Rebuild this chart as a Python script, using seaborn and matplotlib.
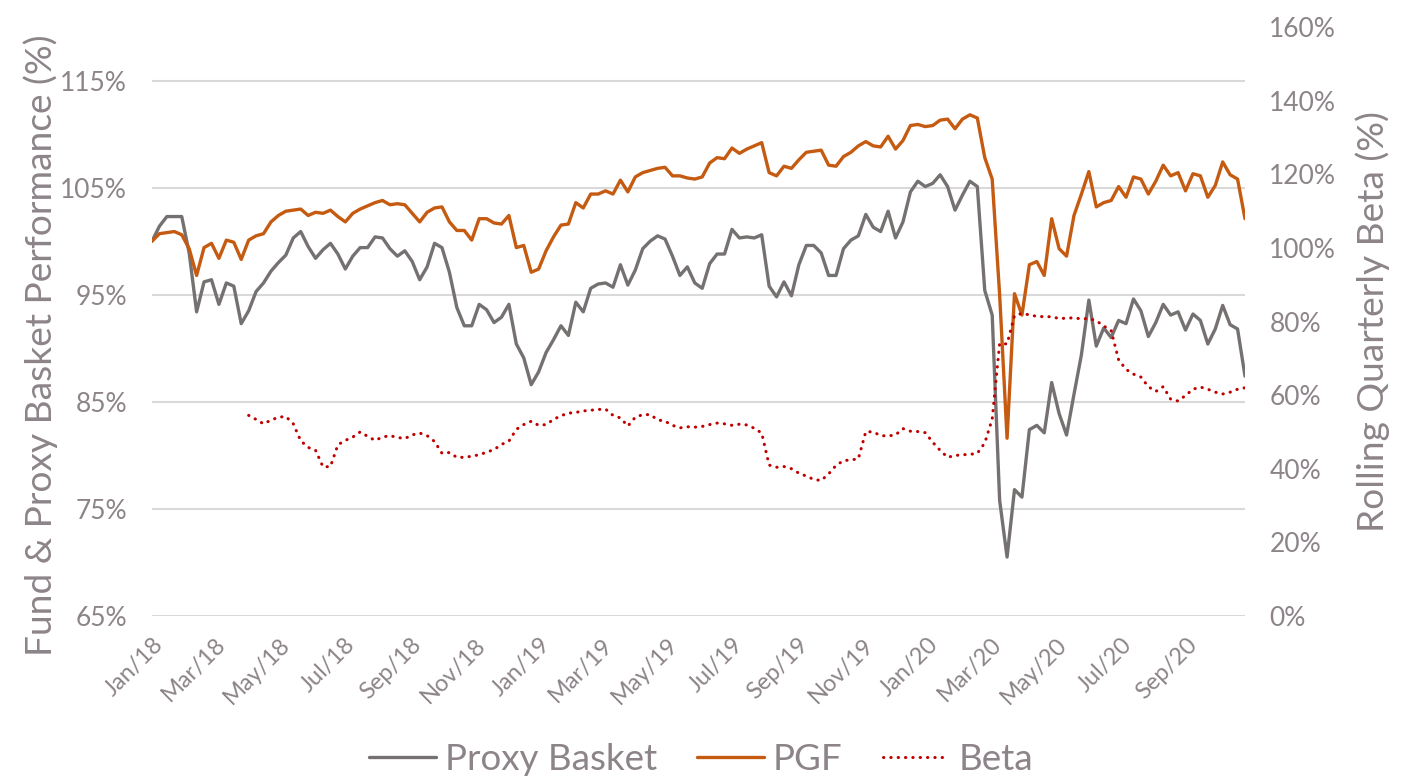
import matplotlib
matplotlib.use("Agg")
import matplotlib.pyplot as plt
import matplotlib.dates as mdates
from matplotlib.ticker import FuncFormatter
from matplotlib.lines import Line2D
import numpy as np
import pandas as pd
import seaborn as sns

# weekly readings, starting 1 Jan 2018
start_date = "2018-01-01"

pgf = [100.0, 100.7, 100.8, 100.9, 100.6, 99.3, 96.8, 99.4, 99.8, 98.4,
       100.1, 99.9, 98.3, 100.1, 100.5, 100.7, 101.8, 102.4, 102.8, 102.9,
       103.0, 102.4, 102.7, 102.6, 102.9, 102.3, 101.8, 102.6, 103.0, 103.3,
       103.6, 103.8, 103.4, 103.5, 103.4, 102.6, 101.8, 102.7, 103.1, 103.2,
       101.8, 101.0, 101.0, 100.1, 102.1, 102.1, 101.7, 101.6, 102.4, 99.4,
       99.6, 97.1, 97.4, 99.1, 100.4, 101.5, 101.6, 103.6, 103.1, 104.4,
       104.4, 104.7, 104.4, 105.7, 104.6, 106.0, 106.4, 106.6, 106.8, 106.9,
       106.1, 106.1, 105.9, 105.8, 106.0, 107.3, 107.8, 107.7, 108.7, 108.2,
       108.6, 108.9, 109.2, 106.4, 106.1, 107.0, 106.8, 107.6, 108.3, 108.4,
       108.5, 107.1, 107.0, 107.9, 108.3, 108.9, 109.3, 108.9, 108.8, 109.8,
       108.6, 109.4, 110.8, 110.9, 110.7, 110.8, 111.3, 111.4, 110.5, 111.4,
       111.8, 111.5, 107.8, 105.8, 95.0, 81.6, 95.1, 93.1, 97.8, 98.1,
       96.8, 102.1, 99.3, 98.6, 102.4, 104.4, 106.5, 103.2, 103.6, 103.8,
       105.1, 104.1, 106.0, 105.8, 104.4, 105.6, 107.1, 106.1, 106.4, 104.7,
       106.3, 106.1, 104.1, 105.2, 107.4, 106.2, 105.8, 102.1]

proxy = [100.0, 101.4, 102.3, 102.3, 102.3, 98.9, 93.4, 96.2, 96.4, 94.1,
         96.1, 95.8, 92.3, 93.5, 95.3, 96.1, 97.2, 98.0, 98.7, 100.3,
         100.9, 99.5, 98.4, 99.2, 99.8, 98.8, 97.4, 98.6, 99.4, 99.4,
         100.4, 100.3, 99.3, 98.6, 99.1, 98.1, 96.4, 97.6, 99.8, 99.4,
         97.1, 93.8, 92.1, 92.1, 94.1, 93.6, 92.4, 92.9, 94.1, 90.4,
         89.1, 86.6, 87.8, 89.6, 90.8, 92.1, 91.2, 94.3, 93.4, 95.6,
         96.0, 96.1, 95.7, 97.8, 95.9, 97.3, 99.3, 100.0, 100.5, 100.2,
         98.6, 96.8, 97.6, 96.1, 95.6, 97.9, 98.8, 98.8, 101.1, 100.3,
         100.4, 100.3, 100.6, 95.8, 94.8, 96.2, 94.9, 97.8, 99.6, 99.6,
         98.9, 96.8, 96.8, 99.3, 100.1, 100.5, 102.5, 101.3, 100.9, 102.8,
         100.3, 101.8, 104.6, 105.6, 105.1, 105.4, 106.2, 105.1, 102.9, 104.3,
         105.6, 105.1, 95.4, 93.1, 75.8, 70.5, 76.8, 76.1, 82.4, 82.8,
         82.1, 86.8, 83.9, 81.9, 85.7, 89.4, 94.5, 90.2, 91.9, 91.0,
         92.6, 92.3, 94.6, 93.5, 91.1, 92.4, 94.1, 93.1, 93.4, 91.7,
         93.2, 92.6, 90.4, 91.8, 94.0, 92.2, 91.8, 87.4]

beta = [np.nan] * 13 + [
    54.5, 53.4, 52.2, 53.2, 54.0, 54.2, 52.2, 47.6, 45.8, 45.0, 40.5, 40.6, 46.5,
    47.7, 48.6, 50.0, 48.8, 47.7, 48.6, 49.0, 48.5, 48.2, 49.2, 49.7, 49.0, 47.4, 44.2,
    44.4, 43.1, 43.1, 43.4, 43.8, 44.5, 45.2, 46.6, 47.5, 50.7, 52.0,
    52.9, 51.8, 52.0, 53.4, 54.4, 55.1, 55.3, 55.7, 55.9, 56.1, 56.2, 54.5, 53.8,
    51.6, 54.0, 54.7, 54.7, 53.3, 52.9, 51.8, 51.1, 51.4, 51.3, 51.5, 52.0, 52.4,
    52.2, 51.8, 52.1, 51.9, 51.0, 49.7, 41.0, 40.4, 40.6, 40.0, 38.8, 38.0, 37.1,
    36.8, 38.6, 40.9, 42.2, 42.4, 42.7, 50.1, 50.0, 49.0, 48.9, 49.2, 50.9,
    50.2, 50.1, 49.8, 47.2, 45.0, 43.1, 43.6, 43.8, 43.9, 44.2, 47.0, 53.5, 74.0,
    73.9, 81.6, 82.2, 81.8, 81.4, 81.3, 81.3, 80.8, 80.9, 81.0, 80.7, 80.8, 80.2,
    78.8, 77.5, 69.6, 67.0, 65.7, 64.9, 62.3, 61.0, 62.3, 58.9, 58.4, 59.9,
    61.6, 62.2, 61.6, 60.8, 60.3, 60.8, 61.6, 62.0]

left_ticks = [65, 75, 85, 95, 105, 115]
right_ticks = [0, 20, 40, 60, 80, 100, 120, 140, 160]

GRAY = "#767171"
ORANGE = "#C55A11"
RED = "#C00000"
TXT = "#8C8489"
GRID = "#D9D9D9"

dates = pd.date_range(start_date, periods=len(pgf), freq="7D")
df = pd.DataFrame({"date": dates, "proxy": proxy, "pgf": pgf, "beta": beta})

sns.set_style("white")
plt.rcParams["font.family"] = ["Lato", "DejaVu Sans"]

fig = plt.figure(figsize=(14.08, 7.8), dpi=100)
ax = fig.add_axes([152 / 1408, 1 - 616 / 780, (1245 - 152) / 1408, (616 - 27) / 780])

sns.lineplot(data=df, x="date", y="proxy", ax=ax, color=GRAY, lw=2.4, label="Proxy Basket")
sns.lineplot(data=df, x="date", y="pgf", ax=ax, color=ORANGE, lw=2.4, label="PGF")

ax2 = ax.twinx()
dotted = (0, (0.1, 2.3))
sns.lineplot(data=df, x="date", y="beta", ax=ax2, color=RED, lw=2.2,
             linestyle=dotted, dash_capstyle="round", label="Beta")

ax.set_ylim(65, 120)
ax2.set_ylim(0, 160)
ax.set_xlim(dates[0], dates[-1])
ax.set_yticks(left_ticks)
ax2.set_yticks(right_ticks)
ax.yaxis.set_major_formatter(FuncFormatter(lambda v, p: f"{v:.0f}%"))
ax2.yaxis.set_major_formatter(FuncFormatter(lambda v, p: f"{v:.0f}%"))

ax.xaxis.set_major_locator(mdates.MonthLocator(bymonth=[1, 3, 5, 7, 9, 11]))
ax.xaxis.set_major_formatter(mdates.DateFormatter("%b/%y"))

ax.grid(axis="y", color=GRID, lw=1.5)
ax.grid(axis="x", visible=False)
for a in (ax, ax2):
    for s in a.spines.values():
        s.set_visible(False)
    a.tick_params(length=0, colors=TXT)

ax.tick_params(axis="y", labelsize=19, pad=18)
ax2.tick_params(axis="y", labelsize=19, pad=17.5)
ax.tick_params(axis="x", labelsize=17, pad=13)
plt.setp(ax.get_xticklabels(), rotation=45, ha="right", rotation_mode="anchor")

ax.set_xlabel("")
ax.set_ylabel("Fund & Proxy Basket Performance (%)", fontsize=26.7, color=TXT)
ax.yaxis.set_label_coords(-0.086, 0.46)
ax2.set_ylabel("Rolling Quarterly Beta (%)", fontsize=26.7, color=TXT, rotation=90, labelpad=14)

for a in (ax, ax2):
    if a.get_legend() is not None:
        a.get_legend().remove()

handles = [Line2D([], [], color=GRAY, lw=2.4),
           Line2D([], [], color=ORANGE, lw=2.4),
           Line2D([], [], color=RED, lw=2.2, linestyle=dotted, dash_capstyle="round")]
fig.legend(handles, ["Proxy Basket", "PGF", "Beta"], loc="center", bbox_to_anchor=(0.498, 0.026),
           ncol=3, frameon=False, fontsize=26.5, labelcolor=TXT, handlelength=1.8,
           handletextpad=0.25, columnspacing=1.1)

fig.savefig("out.png", dpi=100)
